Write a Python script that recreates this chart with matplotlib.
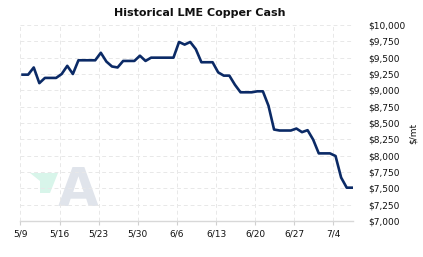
import numpy as np
import pandas as pd
import matplotlib
matplotlib.use('Agg')
import matplotlib.pyplot as plt
from matplotlib.patches import Polygon

# LME copper cash, daily (weekends carry the Friday price)
dates = pd.date_range('2022-05-09 09:00', '2022-07-07 09:00', freq='D')
prices = [9240, 9240, 9350, 9110, 9190, 9190, 9190,
          9250, 9375, 9250, 9460, 9460, 9460, 9460,
          9575, 9440, 9365, 9350, 9450, 9450, 9450,
          9530, 9450, 9500, 9500, 9500, 9500, 9500,
          9740, 9700, 9740, 9630, 9430, 9430, 9430,
          9275, 9225, 9225, 9085, 8970, 8970, 8970,
          8985, 8985, 8765, 8400, 8385, 8385, 8385,
          8415, 8360, 8390, 8245, 8035, 8035, 8035,
          7995, 7665, 7510, 7510]

tick_dates = pd.date_range('2022-05-09', '2022-07-04', freq='7D')
tick_labels = ['5/9', '5/16', '5/23', '5/30', '6/6', '6/13', '6/20', '6/27', '7/4']
y_ticks = np.arange(7000, 10001, 250)
y_labels = ['${:,}'.format(v) for v in y_ticks]

W, H = 423, 257
fig = plt.figure(figsize=(W / 100, H / 100), dpi=100)
ax = fig.add_axes([20 / W, 1 - 221 / H, 333 / W, 196 / H])
ax.set_facecolor('none')

# watermark logo (behind the axes)
pts = [(30, 173), (58, 173), (50, 193), (40, 193), (40, 181)]
green = Polygon([(x / W, 1 - y / H) for x, y in pts], closed=True,
                transform=fig.transFigure, facecolor='#d8f5ea',
                edgecolor='none', zorder=-2)
fig.patches.append(green)
fig.text(78 / W, 1 - 191 / H, 'A', fontsize=38, fontweight='bold', color='#e0e4eb',
         ha='center', va='center', zorder=-2)

ax.plot(dates, prices, color='#0b2a66', linewidth=1.9, solid_joinstyle='round', zorder=3)

ax.set_xlim(pd.Timestamp('2022-05-08 22:00'), pd.Timestamp('2022-07-07 12:00'))
ax.set_ylim(7000, 10000)
ax.set_xticks(tick_dates)
ax.set_xticklabels(tick_labels, fontsize=6.5, color='#111111')
ax.set_yticks(y_ticks)
ax.set_yticklabels(y_labels, fontsize=6.5, color='#111111')
ax.yaxis.tick_right()
ax.tick_params(axis='y', length=0, pad=11)
ax.tick_params(axis='x', length=3, width=0.8, color='#d0d0d0', pad=3)

ax.grid(True, color='#e8e8e8', linestyle=(0, (4, 3)), linewidth=0.7, zorder=0)
for side in ['left', 'right', 'top']:
    ax.spines[side].set_visible(False)
ax.spines['bottom'].set_color('#d8d8d8')
ax.spines['bottom'].set_linewidth(1)

fig.text(413 / W, 1 - 133 / H, '$/mt', fontsize=6.5, color='#111111',
         rotation=90, ha='center', va='center')
fig.text(200 / W, 1 - 13 / H, 'Historical LME Copper Cash', fontsize=8,
         fontweight='bold', ha='center', va='center', color='#111111')

fig.savefig('out.png', dpi=100)
